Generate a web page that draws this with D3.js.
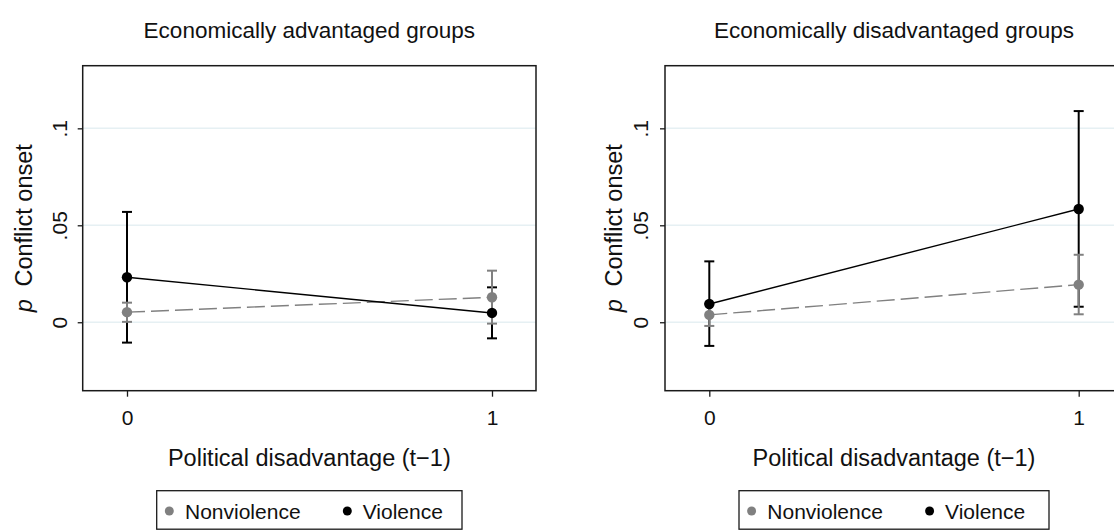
<!DOCTYPE html>
<html>
<head>
<meta charset="utf-8">
<script src="https://cdn.jsdelivr.net/npm/d3@7"></script>
<style>
  html, body { margin: 0; padding: 0; background: #fff; }
  svg { display: block; font-family: "Liberation Sans", Arial, Helvetica, sans-serif; }
</style>
</head>
<body>
<svg id="chart" width="1114" height="530"></svg>
<script>
// ---- data ----
const categories = [0, 1];
const xTickLabels = ["0", "1"];
const yTicks = [0, 0.05, 0.1];
const yTickLabels = ["0", ".05", ".1"];
const panelTitles = ["Economically advantaged groups", "Economically disadvantaged groups"];
const seriesNames = ["Nonviolence", "Violence"];

// Economically advantaged groups
const advNonviolence   = [0.0052, 0.0129];
const advNonviolenceLo = [0.0002, -0.0007];
const advNonviolenceHi = [0.0101, 0.0266];
const advViolence      = [0.0232, 0.0048];
const advViolenceLo    = [-0.0105, -0.0083];
const advViolenceHi    = [0.0569, 0.0180];

// Economically disadvantaged groups
const disNonviolence   = [0.0038, 0.0194];
const disNonviolenceLo = [-0.0019, 0.0041];
const disNonviolenceHi = [0.0095, 0.0348];
const disViolence      = [0.0094, 0.0584];
const disViolenceLo    = [-0.0122, 0.0080];
const disViolenceHi    = [0.0314, 0.1089];

const yDomain = [-0.0353, 0.1323];

// ---- layout ----
const panelLayouts = [
  { left: 82.7, right: 536, x0: 127, x1: 492, yTitleX: 31.7, tickLabelX: 67 },
  { left: 665, right: 1123, x0: 709.3, x1: 1078.7, yTitleX: 621.7, tickLabelX: 648 }
];
const plotTop = 65.7, plotBottom = 390.7;
const GRAY = "#808080";
const BLACK = "#000000";
const FRAME = "#1a1a1a";

const panelData = [
  { nv: advNonviolence, nvLo: advNonviolenceLo, nvHi: advNonviolenceHi,
    v: advViolence, vLo: advViolenceLo, vHi: advViolenceHi },
  { nv: disNonviolence, nvLo: disNonviolenceLo, nvHi: disNonviolenceHi,
    v: disViolence, vLo: disViolenceLo, vHi: disViolenceHi }
];

const svg = d3.select("#chart");

panelLayouts.forEach((L, i) => {
  const D = panelData[i];
  const g = svg.append("g");
  const x = d3.scaleLinear().domain([categories[0], categories[1]]).range([L.x0, L.x1]);
  const y = d3.scaleLinear().domain(yDomain).range([plotBottom, plotTop]);
  const ctr = (L.left + L.right) / 2;

  // title
  g.append("text").attr("x", ctr).attr("y", 38)
    .attr("text-anchor", "middle").attr("font-size", 22.5).attr("fill", "#111")
    .text(panelTitles[i]);

  // grid lines
  g.append("g").selectAll("line").data(yTicks).join("line")
    .attr("x1", L.left).attr("x2", L.right)
    .attr("y1", d => y(d)).attr("y2", d => y(d))
    .attr("stroke", "#e6f0f3").attr("stroke-width", 1.5);

  // y axis (left)
  const yAxis = d3.axisLeft(y).tickValues(yTicks).tickSize(5).tickFormat((d, k) => yTickLabels[k]);
  const ya = g.append("g").attr("transform", `translate(${L.left},0)`).call(yAxis);
  ya.select(".domain").remove();
  ya.selectAll(".tick line").attr("stroke", FRAME).attr("stroke-width", 1.3);
  ya.selectAll(".tick text")
    .attr("font-size", 21).attr("fill", "#111")
    .attr("font-family", "Liberation Sans, Arial, sans-serif")
    .attr("x", null).attr("dy", null)
    .attr("text-anchor", "middle")
    .attr("transform", `translate(${L.tickLabelX - L.left},0) rotate(-90)`);

  // x axis (bottom)
  const xAxis = d3.axisBottom(x).tickValues(categories).tickSize(6).tickFormat((d, k) => xTickLabels[k]);
  const xa = g.append("g").attr("transform", `translate(0,${plotBottom})`).call(xAxis);
  xa.select(".domain").remove();
  xa.selectAll(".tick line").attr("stroke", FRAME).attr("stroke-width", 1.3);
  xa.selectAll(".tick text")
    .attr("font-size", 21).attr("fill", "#111")
    .attr("font-family", "Liberation Sans, Arial, sans-serif")
    .attr("y", 425 - plotBottom).attr("dy", null);

  // frame
  g.append("rect").attr("x", L.left).attr("y", plotTop)
    .attr("width", L.right - L.left).attr("height", plotBottom - plotTop)
    .attr("fill", "none").attr("stroke", FRAME).attr("stroke-width", 1.5);

  // y title
  const yt = g.append("text")
    .attr("transform", `translate(${L.yTitleX},${(plotTop + plotBottom) / 2}) rotate(-90)`)
    .attr("text-anchor", "middle").attr("font-size", 23.5).attr("fill", "#111");
  yt.append("tspan").attr("font-style", "italic").text("p");
  yt.append("tspan").attr("dx", 6).text(" Conflict onset");

  // x title
  g.append("text").attr("x", ctr).attr("y", 465.7)
    .attr("text-anchor", "middle").attr("font-size", 23.5).attr("fill", "#111")
    .text("Political disadvantage (t\u22121)");

  // error bars
  function ci(lo, hi, color) {
    const eg = g.append("g");
    eg.selectAll("line.v").data(categories).join("line").attr("class", "v")
      .attr("x1", d => x(d)).attr("x2", d => x(d))
      .attr("y1", (d, k) => y(lo[k])).attr("y2", (d, k) => y(hi[k]))
      .attr("stroke", color).attr("stroke-width", 2);
    [lo, hi].forEach(arr => {
      eg.selectAll(null).data(categories).join("line")
        .attr("x1", d => x(d) - 5).attr("x2", d => x(d) + 5)
        .attr("y1", (d, k) => y(arr[k])).attr("y2", (d, k) => y(arr[k]))
        .attr("stroke", color).attr("stroke-width", 2);
    });
  }
  ci(D.vLo, D.vHi, BLACK);
  ci(D.nvLo, D.nvHi, GRAY);

  // connecting lines
  const line = d3.line().x((d, k) => x(categories[k])).y(d => y(d));
  g.append("path").attr("d", line(D.nv)).attr("fill", "none")
    .attr("stroke", GRAY).attr("stroke-width", 1.4).attr("stroke-dasharray", "18,6");
  g.append("path").attr("d", line(D.v)).attr("fill", "none")
    .attr("stroke", BLACK).attr("stroke-width", 1.4);

  // points
  g.append("g").selectAll("circle").data(D.nv).join("circle")
    .attr("cx", (d, k) => x(categories[k])).attr("cy", d => y(d)).attr("r", 5.2).attr("fill", GRAY);
  g.append("g").selectAll("circle").data(D.v).join("circle")
    .attr("cx", (d, k) => x(categories[k])).attr("cy", d => y(d)).attr("r", 5.2).attr("fill", BLACK);

  // legend
  const lgLeft = L.left + 74;
  const lgRight = 2 * ctr - lgLeft;
  const lg = g.append("g");
  lg.append("rect").attr("x", lgLeft).attr("y", 490.7)
    .attr("width", lgRight - lgLeft).attr("height", 38.5)
    .attr("fill", "#fff").attr("stroke", FRAME).attr("stroke-width", 1.3);
  const items = [
    { name: seriesNames[0], color: GRAY, dot: lgLeft + 12.6, tx: lgLeft + 28.3 },
    { name: seriesNames[1], color: BLACK, dot: lgLeft + 190.6, tx: lgLeft + 206 }
  ];
  items.forEach(it => {
    lg.append("circle").attr("cx", it.dot).attr("cy", 511).attr("r", 4.5).attr("fill", it.color);
    lg.append("text").attr("x", it.tx).attr("y", 519).attr("font-size", 21).attr("fill", "#111").text(it.name);
  });
});
</script>
</body>
</html>
